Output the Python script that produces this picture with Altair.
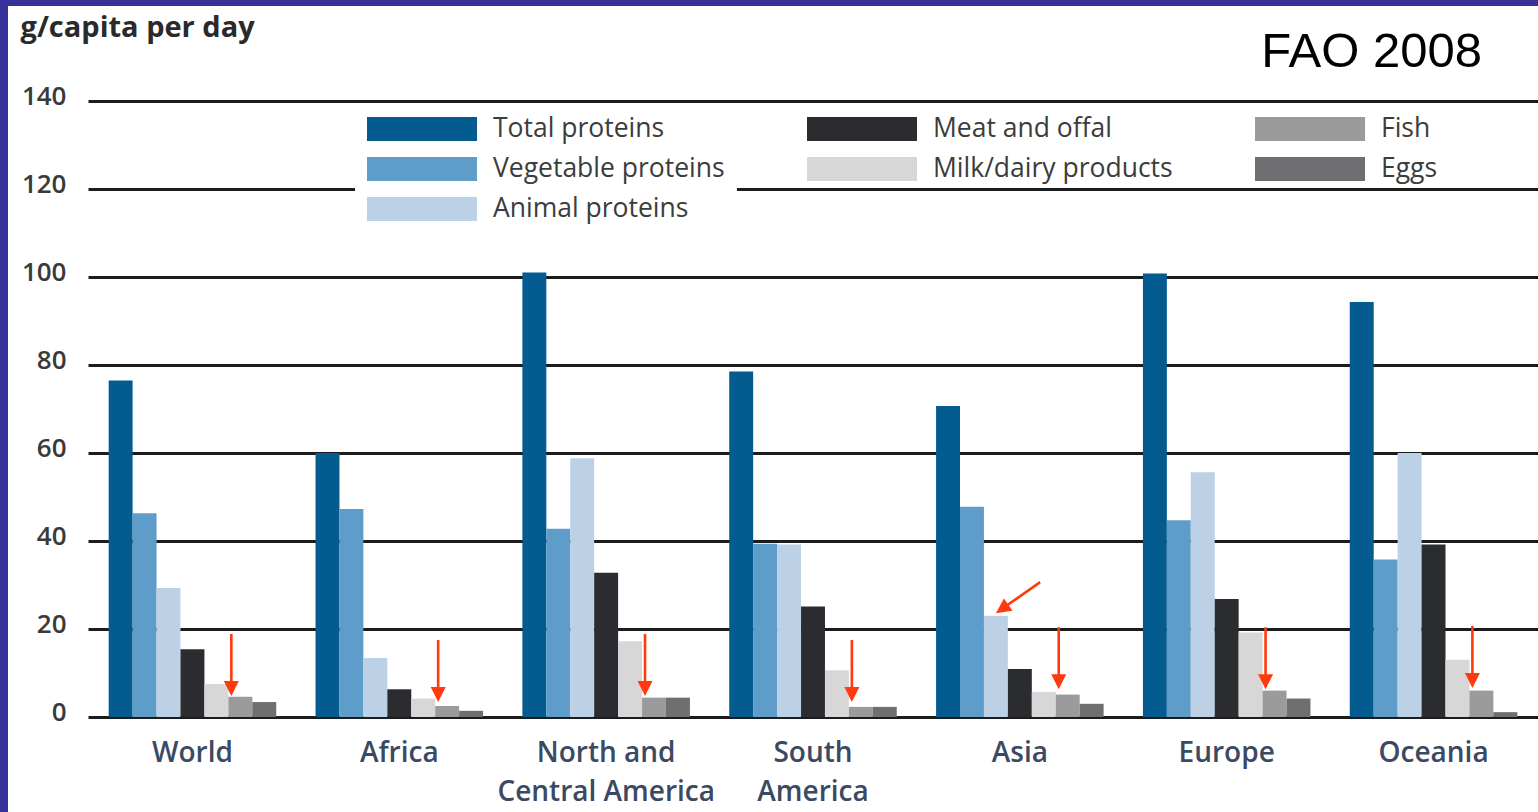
import altair as alt
import pandas as pd

# Daily protein supply by region, g/capita per day
regions = ["World", "Africa", "North and Central America", "South America",
           "Asia", "Europe", "Oceania"]
series = ["Total proteins", "Vegetable proteins", "Animal proteins",
          "Meat and offal", "Milk/dairy products", "Fish", "Eggs"]

total_proteins = [76.5, 60.0, 101.0, 78.5, 70.7, 100.8, 94.3]
vegetable_proteins = [46.3, 47.3, 42.8, 39.4, 47.8, 44.7, 35.8]
animal_proteins = [29.3, 13.4, 58.8, 39.2, 23.0, 55.6, 60.0]
meat_and_offal = [15.4, 6.3, 32.8, 25.1, 10.9, 26.8, 39.2]
milk_dairy = [7.5, 4.2, 17.2, 10.6, 5.7, 19.2, 13.0]
fish = [4.6, 2.5, 4.4, 2.3, 5.1, 6.0, 6.0]
eggs = [3.4, 1.4, 4.4, 2.3, 3.0, 4.2, 1.1]

colors = ["#045b90", "#5e9dc9", "#bdd1e6", "#2b2c30", "#d7d7d7", "#9b9b9d", "#6f6f71"]

# arrows pointing at the fish supply of every region, plus one at Asia's animal proteins
arrow_regions = regions
arrow_targets = ["Fish"] * 7
arrow_tips = [4.8, 3.4, 4.8, 3.4, 6.3, 6.3, 6.6]
slant_region = ["Asia"]
slant_target = ["Animal proteins"]
slant_tip = [23.6]

RED = "#ff3a0e"
FRAME = "#37319a"

values = [total_proteins, vegetable_proteins, animal_proteins, meat_and_offal,
          milk_dairy, fish, eggs]
bars = pd.DataFrame([
    {"region": r, "series": s, "value": v[i]}
    for s, v in zip(series, values)
    for i, r in enumerate(regions)
])
arrow_df = pd.DataFrame({"region": arrow_regions, "target": arrow_targets, "tip": arrow_tips})
slant_df = pd.DataFrame({"region": slant_region, "target": slant_target, "tip": slant_tip})

protein_series = series[:3]
# legend entries fill column by column: Meat/Milk, then Fish/Eggs
food_series = ["Meat and offal", "Milk/dairy products", "Fish", "Eggs"]
food_colors = [colors[series.index(s)] for s in food_series]

x_axis = alt.Axis(
    labelAngle=0, domain=False, ticks=False, grid=False,
    labelFont="Open Sans", labelFontSize=28, labelFontWeight=600,
    labelColor="#3b4963", labelPadding=22, labelLineHeight=39,
    labelBaseline="top", labelLimit=400,
    labelExpr=("datum.value == 'North and Central America' ? ['North and', 'Central America'] : "
               "datum.value == 'South America' ? ['South', 'America'] : datum.label"),
)
y_axis = alt.Axis(
    values=[0, 20, 40, 60, 80, 100, 120, 140], grid=True, gridColor="#1c1c1c",
    gridWidth=3, domain=False, ticks=False,
    labelFont="Open Sans", labelFontSize=26, labelFontWeight=600,
    labelColor="#3a3a3a", labelPadding=22, labelOffset=-5,
    titleAngle=0, titleAlign="left", titleBaseline="middle", titleX=-68, titleY=-74,
    titleFont="Open Sans", titleFontSize=29, titleFontWeight="bold", titleColor="#2a2a2a",
)

x_enc = alt.X("region:N", sort=regions,
              scale=alt.Scale(domain=regions, paddingInner=0.19, paddingOuter=0.1),
              axis=x_axis, title=None)
xo_enc = alt.XOffset("series:N",
                     scale=alt.Scale(domain=series, paddingInner=0, paddingOuter=0))
y_enc = alt.Y("value:Q", scale=alt.Scale(domain=[0, 140], nice=False),
              axis=y_axis, title="g/capita per day")

BOX = "M-1,-0.218H1V0.218H-1Z"
legend_common = dict(
    title=None, orient="none", symbolType=BOX, symbolSize=12100,
    symbolStrokeWidth=0, symbolOpacity=1, clipHeight=28, rowPadding=12,
    labelFont="Open Sans", labelFontSize=26.5, labelColor="#3c3c3c", labelOffset=16,
    labelLimit=400,
)

protein_bars = alt.Chart(bars).transform_filter(
    alt.FieldOneOfPredicate(field="series", oneOf=protein_series)
).mark_bar().encode(
    x=x_enc, xOffset=xo_enc, y=y_enc,
    color=alt.Color("series:N",
                    scale=alt.Scale(domain=protein_series, range=colors[:3]),
                    legend=alt.Legend(legendX=267, legendY=2, padding=12,
                                      fillColor="white", columns=1, **legend_common)),
)

food_bars = alt.Chart(bars).transform_filter(
    alt.FieldOneOfPredicate(field="series", oneOf=food_series)
).mark_bar().encode(
    x=x_enc, xOffset=xo_enc, y=y_enc,
    fill=alt.Fill("series:N",
                  scale=alt.Scale(domain=food_series, range=food_colors),
                  legend=alt.Legend(legendX=719, legendY=14, padding=0,
                                    columns=2, columnPadding=82, **legend_common)),
)

# arrow glyphs (pixel units at size 4): tip near the origin, drawn just left of
# the anchor so it lands on the edge of the target bar; body points up
DOWN_ARROW = "M-9,0L-16.5,-15L-10.3,-15L-10.3,-62L-7.7,-62L-7.7,-15L-1.5,-15Z"
SHORT_ARROW = "M0,0L-7.5,-15L-1.3,-15L-1.3,-54L1.3,-54L1.3,-15L7.5,-15Z"

arrows = alt.Chart(arrow_df).mark_point(
    shape=DOWN_ARROW, size=4, filled=True, color=RED, opacity=1, strokeWidth=0
).encode(
    x=alt.X("region:N", sort=regions),
    xOffset=alt.XOffset("target:N"),
    y=alt.Y("tip:Q"),
)
slant = alt.Chart(slant_df).mark_point(
    shape=SHORT_ARROW, size=4, filled=True, color=RED, opacity=1, strokeWidth=0, angle=55
).encode(
    x=alt.X("region:N", sort=regions),
    xOffset=alt.XOffset("target:N"),
    y=alt.Y("tip:Q"),
)

# slide frame along the left and top edges
one = alt.Data(values=[{"k": 1}])
frame_left = alt.Chart(one).mark_rect(color=FRAME).encode(
    x=alt.value(-88), x2=alt.value(-80), y=alt.value(-101), y2=alt.value(711))
frame_top = alt.Chart(one).mark_rect(color=FRAME).encode(
    x=alt.value(-88), x2=alt.value(1450), y=alt.value(-101), y2=alt.value(-95))

chart = alt.layer(protein_bars, food_bars, arrows, slant, frame_left, frame_top).properties(
    width=1450, height=616,
    padding={"left": 88, "top": 101, "right": 0, "bottom": 95},
    autosize=alt.AutoSizeParams(type="none"),
    title=alt.Title("FAO 2008", anchor="end", frame="group", font="Liberation Sans",
                    fontSize=49, fontWeight="normal", color="#000000",
                    baseline="alphabetic", dx=-56, dy=120),
).resolve_scale(
    color="independent", fill="independent"
).configure(background="white").configure_view(stroke=None)

chart.save("out.html", embed_options={"renderer": "svg", "actions": False})
